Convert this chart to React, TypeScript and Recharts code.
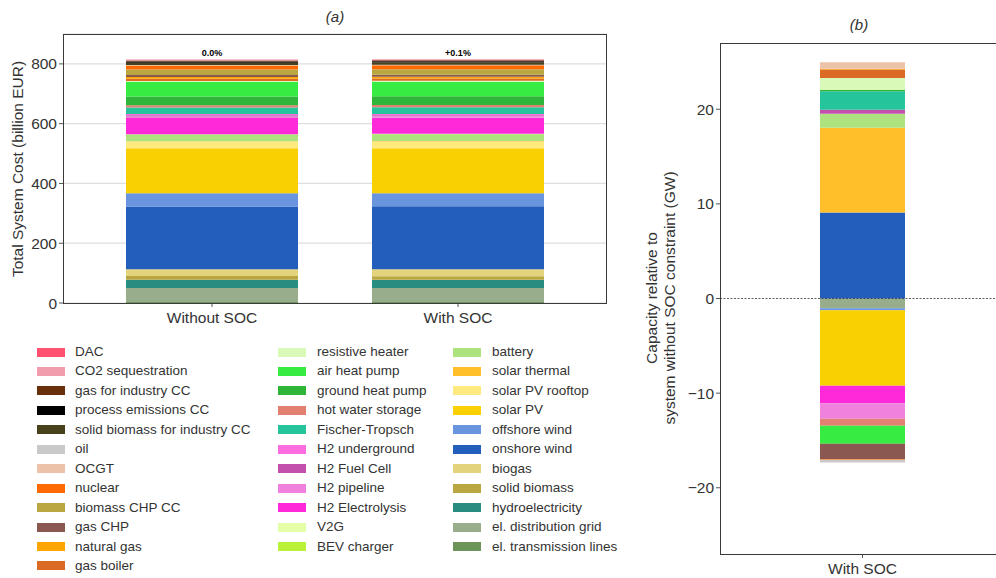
import { BarChart, Bar, XAxis, YAxis, CartesianGrid, ReferenceLine, LabelList } from 'recharts'

// technologies, in stacking order from the bottom of the bar upwards
const techs = [
  'el. transmission lines', 'el. distribution grid', 'hydroelectricity', 'solid biomass', 'biogas',
  'onshore wind', 'offshore wind', 'solar PV', 'solar PV rooftop', 'solar thermal', 'battery',
  'BEV charger', 'V2G', 'H2 Electrolysis', 'H2 pipeline', 'H2 Fuel Cell', 'H2 underground',
  'Fischer-Tropsch', 'hot water storage', 'ground heat pump', 'air heat pump', 'resistive heater',
  'gas boiler', 'natural gas', 'gas CHP', 'biomass CHP CC', 'nuclear', 'OCGT', 'oil',
  'solid biomass for industry CC', 'process emissions CC', 'gas for industry CC',
  'CO2 sequestration', 'DAC',
]

const techColors = [
  '#6c9459', '#97ad8c', '#298c81', '#baa741', '#e3d37d',
  '#235ebc', '#6895dd', '#f9d002', '#ffea80', '#ffbf2b', '#ace37f',
  '#baf238', '#e5ffa8', '#ff29d9', '#f081dc', '#c251ae', '#ff6ee0',
  '#25c49a', '#e28172', '#2fb537', '#36eb41', '#d8f9b8',
  '#db6a25', '#ffa500', '#8a5751', '#baa741', '#ff6a00', '#ecc2a8', '#c9c9c9',
  '#47411c', '#000000', '#692e0a',
  '#f29dae', '#ff5270',
]

// total system cost contributions, billion EUR
const costWithoutSoc = [
  3, 47, 28, 12, 23,
  210, 44, 151, 22, 1, 23,
  0.5, 0.5, 54, 5, 4, 4,
  22, 8, 29, 49, 3,
  7, 6, 7, 18, 14, 0.5, 0.5,
  7.5, 4.5, 3.5,
  2.5, 1,
]
const costWithSoc = [
  3, 46.9, 28, 12, 23,
  210.6, 44, 150.5, 22, 1.6, 23.3,
  0.5, 0.5, 53.7, 4.8, 4, 4,
  22.3, 8, 29, 48.8, 3.3,
  7.2, 6, 6.8, 18, 14, 0.6, 0.5,
  7.5, 4.5, 3.5,
  2.5, 1,
]

// capacity with SOC constraint minus capacity without it, GW
const capacityDiff = [
  0, -1.03, 0, 0, 0,
  9.1, -0.2, -8.0, 0, 8.95, 1.47,
  0, 0, -1.83, -1.65, 0.42, 0,
  1.97, -0.74, 0.12, -1.9, 1.26,
  0.9, 0.08, -1.61, 0, -0.08, 0.7, -0.3,
  0, 0, 0,
  0, 0,
]

const scenarios = ['Without SOC', 'With SOC']
const costTicks = [0, 200, 400, 600, 800]
const capTicks = [-20, -10, 0, 10, 20]

const key = (j: number) => `t${j}`
const sum = (a: number[]) => a.reduce((s, v) => s + v, 0)

const baseTotal = sum(costWithoutSoc)
const costData = scenarios.map((name, i) => {
  const vals = i === 0 ? costWithoutSoc : costWithSoc
  const pct = (sum(vals) / baseTotal - 1) * 100
  const row: Record<string, string | number> = {
    name,
    change: `${pct >= 0.05 ? '+' : ''}${pct.toFixed(1)}%`,
  }
  vals.forEach((v, j) => (row[key(j)] = v))
  return row
})

const capRow: Record<string, string | number> = { name: 'With SOC' }
capacityDiff.forEach((v, j) => (capRow[key(j)] = v))
const capData = [capRow]

const textColor = '#333'
const tickFont = { fontSize: 15.5, fill: textColor }
const minus = (v: number) => (v < 0 ? `\u2212${Math.abs(v)}` : `${v}`)

function Legend() {
  const items = techs.map((t, j) => ({ t, c: techColors[j] })).reverse()
  const cols = [
    { from: 0, to: 12, swatchX: 37, textX: 75 },
    { from: 12, to: 23, swatchX: 278, textX: 317 },
    { from: 23, to: 34, swatchX: 453, textX: 492 },
  ]
  return (
    <>
      {cols.map(col =>
        items.slice(col.from, col.to).map((it, r) => {
          const cy = 352 + r * 19.45
          return (
            <div key={it.t}>
              <div
                style={{
                  position: 'absolute', left: col.swatchX, top: cy - 4.5,
                  width: 28, height: 9, background: it.c,
                }}
              />
              <div
                style={{
                  position: 'absolute', left: col.textX, top: cy - 9, lineHeight: '18px',
                  fontSize: 13.5, color: textColor, whiteSpace: 'nowrap',
                }}
              >
                {it.t}
              </div>
            </div>
          )
        })
      )}
    </>
  )
}

export default function App() {
  return (
    <div
      style={{
        position: 'absolute', left: 0, top: 0, width: 996, height: 578, overflow: 'hidden',
        background: '#fff', fontFamily: '"Liberation Sans", Arial, sans-serif',
      }}
    >
      {/* (a) total system cost */}
      <div style={{ position: 'absolute', left: 0, top: 0 }}>
        <BarChart
          width={640}
          height={340}
          data={costData}
          margin={{ top: 34, right: 33, bottom: 7, left: 13 }}
        >
          <CartesianGrid vertical={false} stroke="#dedede" strokeWidth={1.2} />
          <XAxis
            dataKey="name"
            height={30}
            padding={{ left: 26, right: 26 }}
            axisLine={false}
            tickSize={4}
            tickMargin={5}
            tickLine={{ stroke: '#555' }}
            tick={tickFont}
          />
          <YAxis
            width={50}
            domain={[0, 900]}
            ticks={costTicks}
            axisLine={false}
            tickSize={4}
            tickLine={{ stroke: '#555' }}
            tick={tickFont}
          />
          {techs.map((t, j) => (
            <Bar
              key={t}
              dataKey={key(j)}
              name={t}
              stackId="cost"
              fill={techColors[j]}
              barSize={172}
              isAnimationActive={false}
            >
              {j === techs.length - 1 && (
                <LabelList dataKey="change" position="top" offset={3} fontSize={9} fontWeight="bold" fill="#000" />
              )}
            </Bar>
          ))}
        </BarChart>
      </div>
      <div
        style={{
          position: 'absolute', left: 63, top: 34, width: 544, height: 270,
          boxSizing: 'border-box', border: '1px solid #3a3a3a', pointerEvents: 'none',
        }}
      />
      <div
        style={{
          position: 'absolute', left: 18, top: 169, transform: 'translate(-50%, -50%) rotate(-90deg)',
          fontSize: 15.5, color: textColor, whiteSpace: 'nowrap',
        }}
      >
        Total System Cost (billion EUR)
      </div>
      <div
        style={{
          position: 'absolute', left: 335, top: 16, transform: 'translate(-50%, -50%)',
          fontSize: 15, fontStyle: 'italic', color: textColor,
        }}
      >
        (a)
      </div>

      {/* (b) capacity change */}
      <div style={{ position: 'absolute', left: 640, top: 0 }}>
        <BarChart
          width={380}
          height={578}
          data={capData}
          stackOffset="sign"
          margin={{ top: 43, right: 15, bottom: 0, left: 30 }}
        >
          <XAxis
            dataKey="name"
            height={24}
            axisLine={false}
            tickSize={4}
            tickMargin={5}
            tickLine={{ stroke: '#555' }}
            tick={tickFont}
          />
          <YAxis
            width={50}
            domain={[-27, 27]}
            ticks={capTicks}
            tickFormatter={minus}
            axisLine={false}
            tickSize={4}
            tickLine={{ stroke: '#555' }}
            tick={tickFont}
          />
          {techs.map((t, j) => (
            <Bar
              key={t}
              dataKey={key(j)}
              name={t}
              stackId="cap"
              fill={techColors[j]}
              barSize={85}
              isAnimationActive={false}
            />
          ))}
          <ReferenceLine y={0} stroke="#333" strokeWidth={0.8} strokeDasharray="2 1.5" />
        </BarChart>
      </div>
      <div
        style={{
          position: 'absolute', left: 720, top: 43, width: 285, height: 512,
          boxSizing: 'border-box', border: '1px solid #3a3a3a', pointerEvents: 'none',
        }}
      />
      <div
        style={{
          position: 'absolute', left: 661, top: 298, transform: 'translate(-50%, -50%) rotate(-90deg)',
          fontSize: 15.5, lineHeight: '18px', color: textColor, whiteSpace: 'nowrap', textAlign: 'center',
        }}
      >
        Capacity relative to
        <br />
        system without SOC constraint (GW)
      </div>
      <div
        style={{
          position: 'absolute', left: 859, top: 24, transform: 'translate(-50%, -50%)',
          fontSize: 15, fontStyle: 'italic', color: textColor,
        }}
      >
        (b)
      </div>

      <Legend />
    </div>
  )
}
